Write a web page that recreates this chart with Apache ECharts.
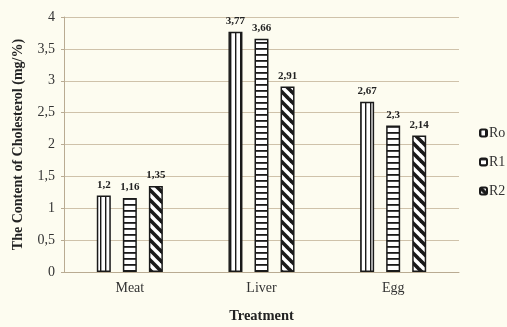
<!DOCTYPE html>
<html>
<head>
<meta charset="utf-8">
<script src="https://cdn.jsdelivr.net/npm/echarts@6/dist/echarts.min.js"></script>
<style>
  html, body { margin: 0; padding: 0; background: #fdfcf0; }
  #chart { width: 507px; height: 327px; }
</style>
</head>
<body>
<div id="chart"></div>
<script>
// Cholesterol content by tissue and treatment
const categories = ['Meat', 'Liver', 'Egg'];
const seriesNames = ['Ro', 'R1', 'R2'];
const valuesRo = [1.2, 3.77, 2.67];
const valuesR1 = [1.16, 3.66, 2.3];
const valuesR2 = [1.35, 2.91, 2.14];
const yTicks = [0, 0.5, 1, 1.5, 2, 2.5, 3, 3.5, 4];

const comma = v => String(v).replace('.', ',');

// Hatch fills drawn on small tiles
function tile(w, h, draw) {
  const c = document.createElement('canvas');
  c.width = w; c.height = h;
  const ctx = c.getContext('2d');
  ctx.fillStyle = '#ffffff';
  ctx.fillRect(0, 0, w, h);
  ctx.fillStyle = '#1a1a1a';
  ctx.strokeStyle = '#1a1a1a';
  draw(ctx, w, h);
  return { image: c, repeat: 'repeat' };
}
const vertical = tile(5, 5, (ctx) => { ctx.fillRect(0, 0, 1.4, 5); });
const horizontal = tile(6, 6, (ctx) => { ctx.fillRect(0, 0, 6, 1.8); });
const diagonal = tile(10, 10, (ctx) => {
  ctx.lineWidth = 3.6;
  for (let k = -10; k <= 10; k += 10) {
    ctx.beginPath();
    ctx.moveTo(k - 3, -3);
    ctx.lineTo(k + 13, 13);
    ctx.stroke();
  }
});
const fills = [vertical, horizontal, diagonal];
const seriesValues = [valuesRo, valuesR1, valuesR2];

const font = 'Liberation Serif';
const chart = echarts.init(document.getElementById('chart'));
chart.setOption({
  backgroundColor: '#fdfcf0',
  animation: false,
  grid: { left: 64, right: 48, top: 17, bottom: 55, containLabel: false, outerBoundsMode: 'none' },
  legend: {
    orient: 'vertical',
    left: 474,
    top: 121,
    itemWidth: 7,
    itemHeight: 7,
    itemGap: 15,
    textStyle: { fontFamily: font, fontSize: 14, color: '#333', padding: [0, 0, 0, -3] },
    data: seriesNames
  },
  xAxis: {
    type: 'category',
    data: categories,
    name: 'Treatment',
    nameLocation: 'middle',
    nameGap: 37,
    nameTextStyle: { fontFamily: font, fontSize: 14.5, fontWeight: 'bold', color: '#222' },
    axisLine: { lineStyle: { color: '#b9ab92', width: 1 } },
    axisTick: { show: false },
    axisLabel: { fontFamily: font, fontSize: 14, color: '#333', margin: 9 }
  },
  yAxis: {
    type: 'value',
    min: yTicks[0],
    max: yTicks[yTicks.length - 1],
    interval: 0.5,
    name: 'The Content of Cholesterol (mg/%)',
    nameLocation: 'middle',
    nameGap: 39,
    nameTextStyle: { fontFamily: font, fontSize: 14, fontWeight: 'bold', color: '#222' },
    axisLine: { show: true, lineStyle: { color: '#b9ab92' } },
    axisTick: { show: true, length: 3, lineStyle: { color: '#b9ab92' } },
    axisLabel: { fontFamily: font, fontSize: 14, color: '#333', margin: 9, formatter: comma },
    splitLine: { lineStyle: { color: '#cfc2aa', width: 1 } }
  },
  series: seriesNames.map((name, i) => ({
    name,
    type: 'bar',
    data: seriesValues[i],
    barWidth: 14,
    barGap: '86%',
    itemStyle: { color: fills[i], borderColor: '#1a1a1a', borderWidth: 1.5 },
    label: {
      show: true,
      position: 'top',
      distance: 5,
      fontFamily: font,
      fontSize: 11,
      fontWeight: 'bold',
      color: '#222',
      formatter: p => comma(p.value)
    }
  }))
});
</script>
</body>
</html>
